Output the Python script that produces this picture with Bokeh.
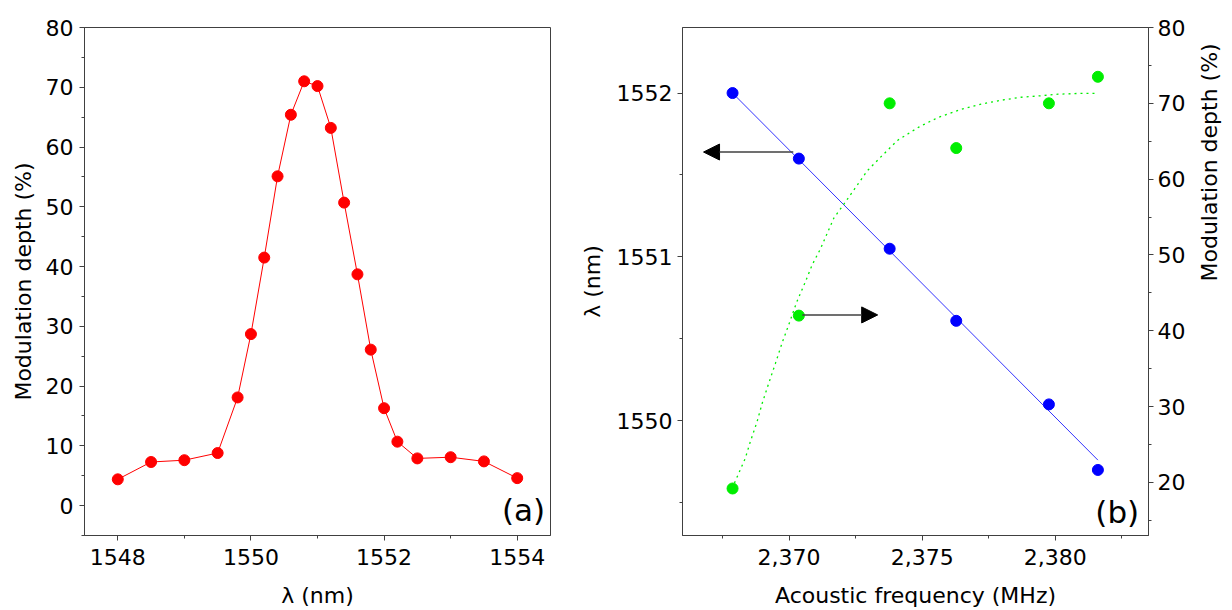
import math

from bokeh.embed import file_html
from bokeh.layouts import row
from bokeh.models import (Arrow, Label, LinearAxis, NormalHead,
                          NumeralTickFormatter, Range1d, SingleIntervalTicker)
from bokeh.plotting import figure
from bokeh.resources import INLINE

# (a) modulation depth against wavelength
wavelength = [1548.0, 1548.5, 1549.0, 1549.5, 1549.8, 1550.0, 1550.2, 1550.4,
              1550.6, 1550.8, 1551.0, 1551.2, 1551.4, 1551.6, 1551.8, 1552.0,
              1552.2, 1552.5, 1553.0, 1553.5, 1554.0]
depth_a = [4.4, 7.3, 7.6, 8.8, 18.1, 28.7, 41.5, 55.1, 65.4, 71.0, 70.2, 63.2,
           50.7, 38.7, 26.1, 16.3, 10.7, 7.9, 8.1, 7.4, 4.6]

# (b) resonance wavelength and modulation depth against acoustic frequency
freq = [2367.88, 2370.37, 2373.78, 2376.28, 2379.76, 2381.6]
wl_b = [1552.0, 1551.6, 1551.05, 1550.61, 1550.10, 1549.70]
depth_b = [19.2, 42.0, 70.0, 64.1, 70.0, 73.5]

# linear fit of wl_b (end points)
fit_freq = [2367.88, 2381.6]
fit_wl = [1552.0, 1549.76]

# saturating fit of depth_b
curve_freq = [2367.86, 2368.36, 2368.55, 2368.80, 2368.99, 2369.24, 2369.49,
              2369.74, 2369.99, 2370.28, 2370.62, 2370.87, 2371.18, 2371.69,
              2372.06, 2372.44, 2372.94, 2373.44, 2374.07, 2374.89, 2375.58,
              2376.46, 2377.21, 2377.96, 2378.71, 2379.47, 2380.10, 2380.85,
              2381.54]
curve_depth = [19.2, 23.2, 25.4, 28.0, 30.4, 33.1, 35.7, 38.4, 40.8, 43.7,
               46.5, 48.7, 50.8, 54.9, 56.7, 58.6, 61.1, 62.9, 65.1, 66.9, 68.1,
               69.2, 69.9, 70.4, 70.8, 71.0, 71.2, 71.3, 71.3]

FONT = "DejaVu Sans"
EDGE = "#404040"


def style_axis(ax, label, standoff, label_standoff=4):
    ax.axis_label = label
    ax.axis_label_standoff = standoff
    ax.axis_label_text_font = FONT
    ax.axis_label_text_font_size = "22px"
    ax.axis_label_text_font_style = "normal"
    ax.axis_label_text_color = "black"
    ax.major_label_text_font = FONT
    ax.major_label_text_font_size = "22px"
    ax.major_label_text_color = "black"
    ax.major_label_standoff = label_standoff
    ax.axis_line_color = EDGE
    ax.major_tick_line_color = EDGE
    ax.minor_tick_line_color = EDGE
    ax.major_tick_in = 0
    ax.major_tick_out = 5
    ax.minor_tick_in = 0
    ax.minor_tick_out = 3


def make_figure(x_range, y_range, left, right):
    p = figure(frame_width=466, frame_height=508,
               min_border_left=left, min_border_right=right,
               min_border_top=27, min_border_bottom=75,
               x_range=x_range, y_range=y_range,
               output_backend="svg", toolbar_location=None)
    p.grid.visible = False
    p.outline_line_color = EDGE
    p.outline_line_alpha = 1
    p.background_fill_color = "white"
    p.border_fill_color = "white"
    return p


# ---- panel (a)
p1 = make_figure(Range1d(1547.5, 1554.5), Range1d(-5, 80), 84, 20)
p1.xaxis.ticker = SingleIntervalTicker(interval=2, num_minor_ticks=2)
p1.yaxis.ticker = SingleIntervalTicker(interval=10, num_minor_ticks=2)
style_axis(p1.xaxis[0], "λ (nm)", 15, 8)
style_axis(p1.yaxis[0], "Modulation depth (%)", 7, 6)

p1.line(wavelength, depth_a, line_color="#ff0000", line_width=1)
p1.scatter(wavelength, depth_a, size=11, fill_color="#ff0000",
           line_color="#ff0000")
p1.add_layout(Label(x=1554.42, y=-0.7, text="(a)", text_align="right",
                    text_baseline="middle", text_font=FONT,
                    text_font_size="31px", text_color="black"))

# ---- panel (b)
p2 = make_figure(Range1d(2366, 2383.5), Range1d(1549.3, 1552.4), 112, 85)
p2.extra_y_ranges = {"depth": Range1d(13, 80)}
p2.xaxis.ticker = SingleIntervalTicker(interval=5, num_minor_ticks=2)
p2.xaxis.formatter = NumeralTickFormatter(format="0,0")
p2.yaxis.ticker = SingleIntervalTicker(interval=1, num_minor_ticks=2)
style_axis(p2.xaxis[0], "Acoustic frequency (MHz)", 15, 8)
style_axis(p2.yaxis[0], "λ (nm)", 9, 5)

right_axis = LinearAxis(y_range_name="depth",
                        ticker=SingleIntervalTicker(interval=10,
                                                    num_minor_ticks=2))
style_axis(right_axis, "Modulation depth (%)", 21, 4)
right_axis.axis_label_orientation = math.pi / 2
p2.add_layout(right_axis, "right")

p2.line(fit_freq, fit_wl, line_color="#3333ff", line_width=1)
p2.line(curve_freq, curve_depth, y_range_name="depth", line_color="#00ee00",
        line_width=1.3, line_dash="2 4")
p2.scatter(freq, wl_b, size=11, fill_color="#0000ff", line_color="#0000ff")
p2.scatter(freq, depth_b, y_range_name="depth", size=11,
           fill_color="#00ee00", line_color="#00ee00")

p2.add_layout(Arrow(end=NormalHead(size=16, fill_color="black",
                                   line_color="black"),
                    x_start=2370.16, y_start=1551.64,
                    x_end=2366.79, y_end=1551.64,
                    line_color=EDGE, line_width=1.5))
p2.add_layout(Arrow(end=NormalHead(size=16, fill_color="black",
                                   line_color="black"),
                    x_start=2370.5, y_start=1550.646,
                    x_end=2373.33, y_end=1550.646,
                    line_color=EDGE, line_width=1.5))
p2.add_layout(Label(x=2383.15, y=16.1, y_range_name="depth", text="(b)",
                    text_align="right", text_baseline="middle",
                    text_font=FONT, text_font_size="31px",
                    text_color="black"))

layout = row(p1, p2)
open("out.html", "w").write(file_html(layout, INLINE))
